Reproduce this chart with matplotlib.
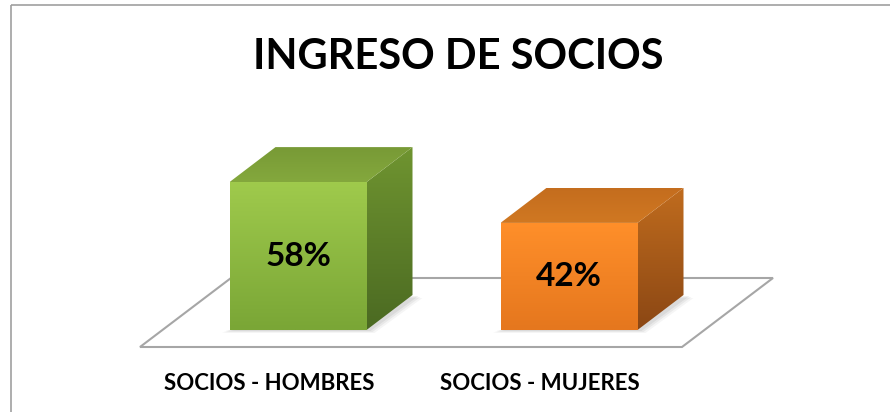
import numpy as np
import matplotlib
matplotlib.use("Agg")
from matplotlib import pyplot as plt
from matplotlib.patches import Polygon, Rectangle

categorias = ["SOCIOS - HOMBRES", "SOCIOS - MUJERES"]
porcentajes = [58, 42]
etiquetas = ["58%", "42%"]
titulo = "INGRESO DE SOCIOS"

# colores de cada cara: (arriba, abajo)
frente = [("#9fca4c", "#7aa636"), ("#ff8f2a", "#e5771e")]
lado = [("#6f9430", "#4b6a22"), ("#c06c1e", "#8b4714")]
tapa = [("#789a36", "#84a83d"), ("#c46d1e", "#d07822")]

plt.rcParams['font.family'] = ['Lato', 'DejaVu Sans']

fig = plt.figure(figsize=(8.9, 4.12), dpi=100)
ax = fig.add_axes([0, 0, 1, 1])
# x en pixeles, y en porcentaje (2.55 px por punto)
esc = 2.55
base_px = 330
ax.set_xlim(0, 890)
ax.set_ylim((base_px - 412) / esc, base_px / esc)
ax.axis("off")

def py(p):
    return (base_px - p) / esc

# marco exterior
ax.add_patch(Rectangle((10.5, py(5.5)), 900, py(420) - py(5.5), fill=False,
                       ec="#a0a0a0", lw=1.2, transform=ax.transData))

dx = 46
dy = 35 / esc
ancho = 137
centros = [298, 569]

# piso
piso_frente = py(347)
piso_fondo = py(278)
piso = Polygon([(140, piso_frente), (682, piso_frente), (773, piso_fondo),
                (231, piso_fondo)], closed=True, fc="white", ec="#a6a6a6", lw=1.5)
ax.add_patch(piso)

def cara(puntos, c1, c2):
    pts = np.array(puntos)
    x0, x1 = pts[:, 0].min(), pts[:, 0].max()
    y0, y1 = pts[:, 1].min(), pts[:, 1].max()
    a = np.array(matplotlib.colors.to_rgb(c1))
    b = np.array(matplotlib.colors.to_rgb(c2))
    t = np.linspace(0, 1, 64)[:, None]
    grad = (a * (1 - t) + b * t)[:, None, :]
    im = ax.imshow(grad, extent=(x0, x1, y0, y1), origin="upper",
                   aspect="auto", zorder=3, interpolation="bilinear")
    pol = Polygon(puntos, closed=True, fc="none", ec="none")
    ax.add_patch(pol)
    im.set_clip_path(pol)

for i, v in enumerate(porcentajes):
    xl = centros[i] - ancho / 2
    xr = centros[i] + ancho / 2
    # sombra suave
    for k, al in enumerate([0.06, 0.05, 0.04]):
        ax.add_patch(Polygon([(xl - 4 - k * 2, py(331 + k)), (xr + 4 + k * 2, py(331 + k)),
                              (xr + dx + 6 + k * 2, py(331 + k) + dy),
                              (xr + 6, py(331 + k) + dy)],
                             closed=True, fc="black", alpha=al, ec="none", zorder=2))
    cara([(xl, 0), (xr, 0), (xr, v), (xl, v)], *frente[i])
    cara([(xr, 0), (xr + dx, dy), (xr + dx, v + dy), (xr, v)], *lado[i])
    cara([(xl, v), (xr, v), (xr + dx, v + dy), (xl + dx, v + dy)], *tapa[i])
    ax.text(centros[i], v / 2, etiquetas[i], ha="center", va="center",
            fontsize=24, fontweight="bold", color="black", zorder=5)
    ax.text(centros[i] - 29, py(383), categorias[i], ha="center", va="center",
            fontsize=16, fontweight="bold", color="black", zorder=5)

ax.text(458, py(57), titulo, ha="center", va="center", fontsize=30,
        fontweight="bold", color="black")

fig.savefig("out.png", dpi=100)
